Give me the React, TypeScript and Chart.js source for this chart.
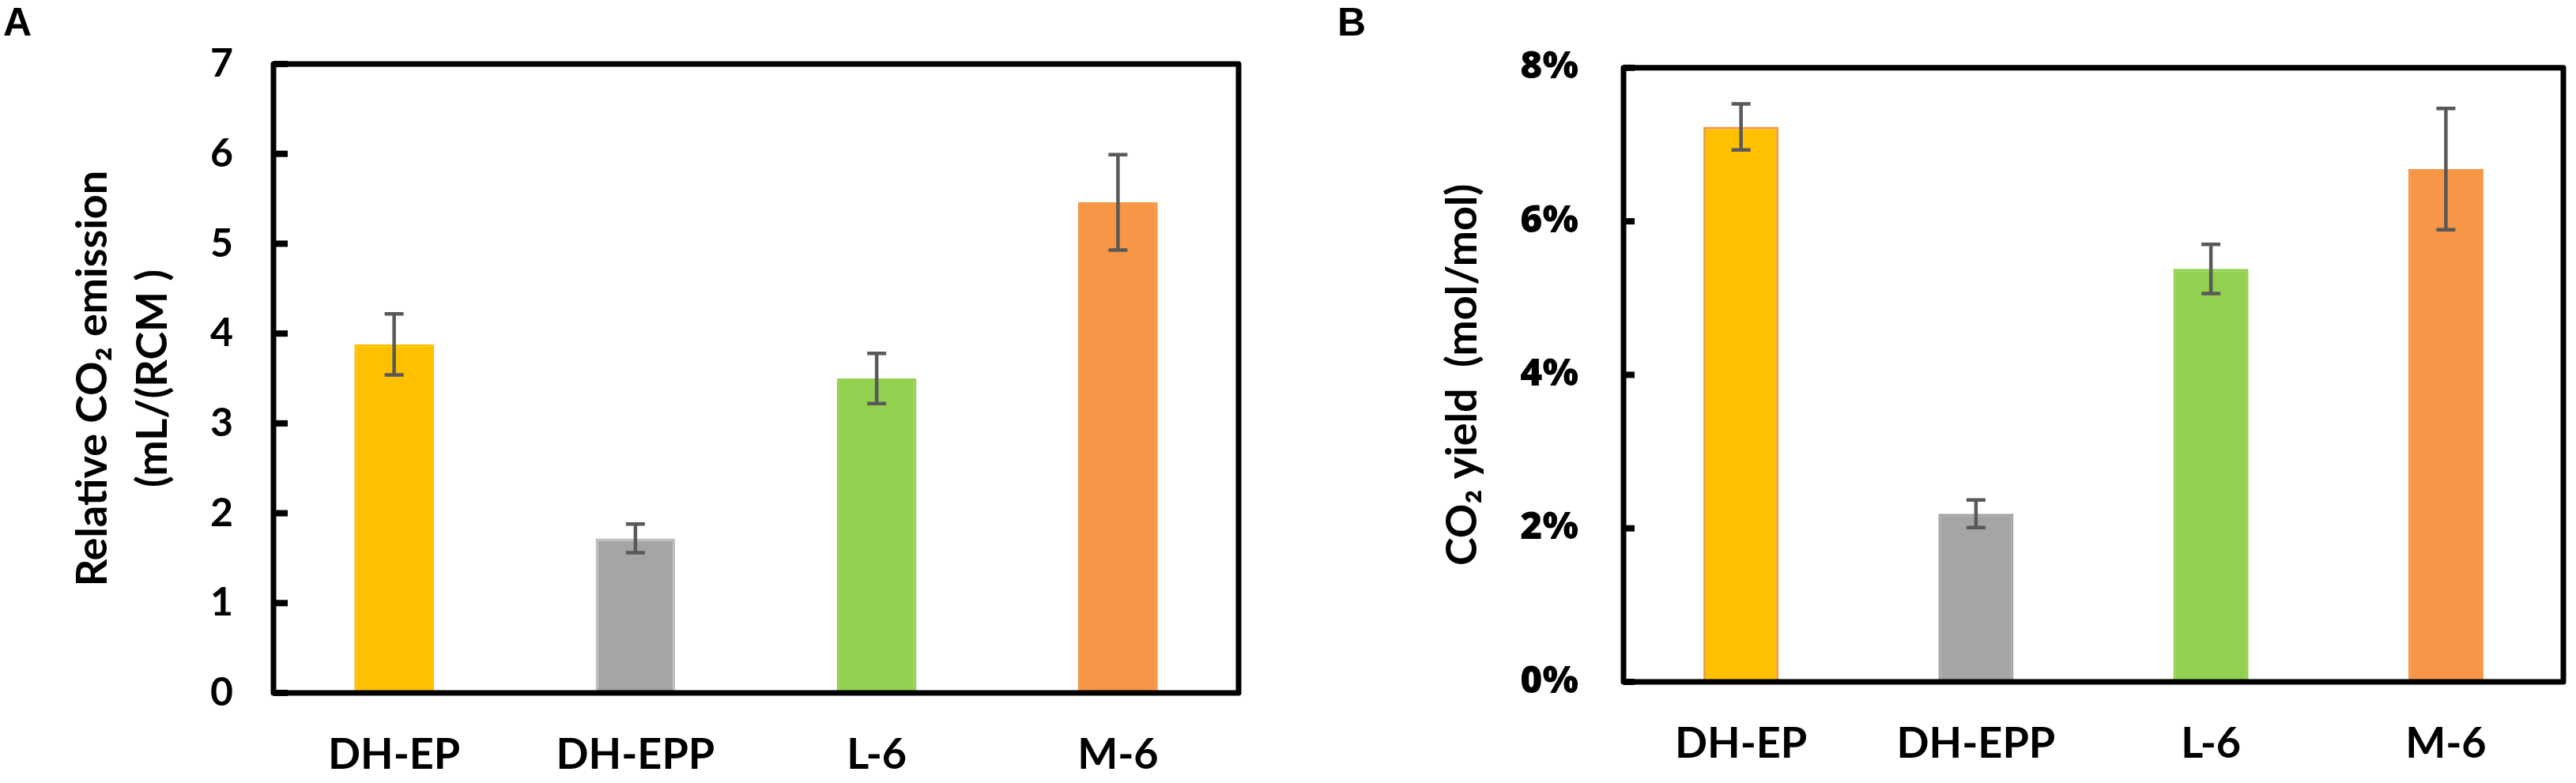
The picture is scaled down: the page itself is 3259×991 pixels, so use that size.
import React, { useEffect, useRef } from "react";
import { Chart, registerables, ChartConfiguration, Plugin } from "chart.js";

Chart.register(...registerables);

const categories = ["DH-EP", "DH-EPP", "L-6", "M-6"];
const fillColors = ["#FFC000", "#A5A5A5", "#92D050", "#F79646"];
const edgeColorsA = ["#FFC000", "#BFBFBF", "#92D050", "#F79646"];
const edgeColorsB = ["#F79646", "#A5A5A5", "#92D050", "#F79646"];

// panel A: relative CO2 emission, mL/(RCM)
const emission = [3.88, 1.72, 3.5, 5.46];
const emissionErr = [0.34, 0.16, 0.28, 0.53];

// panel B: CO2 yield, percent mol/mol
const co2Yield = [7.23, 2.19, 5.38, 6.68];
const co2YieldErr = [0.3, 0.18, 0.32, 0.79];

const errorBars: Plugin<"bar"> = {
  id: "errorBars",
  afterDatasetsDraw(chart, _args, opts: any) {
    const { ctx } = chart;
    const y = chart.scales.y;
    const values = chart.data.datasets[0].data as number[];
    const errs: number[] = opts.errors || [];
    ctx.save();
    ctx.strokeStyle = "#595959";
    ctx.lineWidth = 4.5;
    chart.getDatasetMeta(0).data.forEach((bar, i) => {
      const x = bar.x;
      const top = y.getPixelForValue(values[i] + errs[i]);
      const bot = y.getPixelForValue(values[i] - errs[i]);
      ctx.beginPath();
      ctx.moveTo(x, top);
      ctx.lineTo(x, bot);
      ctx.moveTo(x - 12, top);
      ctx.lineTo(x + 12, top);
      ctx.moveTo(x - 12, bot);
      ctx.lineTo(x + 12, bot);
      ctx.stroke();
    });
    ctx.restore();
  },
};

const frame: Plugin<"bar"> = {
  id: "frame",
  afterDatasetsDraw(chart, _args, opts: any) {
    const { ctx, chartArea: a } = chart;
    const y = chart.scales.y;
    ctx.save();
    ctx.strokeStyle = "#000";
    ctx.lineWidth = 8;
    y.ticks.forEach((_t, i) => {
      const py = y.getPixelForTick(i);
      ctx.beginPath();
      ctx.moveTo(a.left, py);
      ctx.lineTo(a.left + (opts.tickLen || 18), py);
      ctx.stroke();
    });
    ctx.lineWidth = 7;
    ctx.lineJoin = "round";
    ctx.strokeRect(a.left, a.top, a.right - a.left, a.bottom - a.top);
    ctx.restore();
  },
};

interface PanelProps {
  values: number[];
  errors: number[];
  edges: string[];
  max: number;
  step: number;
  suffix: string;
  title: string | string[];
  titleSize: number;
  tickFont: string;
  tickSize: number;
  tickWeight: number;
  tickPad: number;
  titleLineHeight: number;
  titlePad: number;
  axisWidth: number;
  axisHeight: number;
  padTop: number;
  padRight: number;
  barPct: number;
  tickLen: number;
}

const Panel: React.FC<PanelProps> = (p) => {
  const canvasRef = useRef<HTMLCanvasElement>(null);

  useEffect(() => {
    if (!canvasRef.current) return;
    const config: ChartConfiguration<"bar"> = {
      type: "bar",
      data: {
        labels: categories,
        datasets: [
          {
            data: p.values,
            backgroundColor: fillColors,
            borderColor: p.edges,
            borderWidth: 3,
            categoryPercentage: 1,
            barPercentage: p.barPct,
          },
        ],
      },
      options: {
        animation: false,
        responsive: true,
        maintainAspectRatio: false,
        layout: { padding: { top: p.padTop, right: p.padRight, left: 0, bottom: 0 } },
        plugins: {
          legend: { display: false },
          tooltip: { enabled: false },
          errorBars: { errors: p.errors },
          frame: { tickLen: p.tickLen },
        } as any,
        scales: {
          x: {
            grid: { display: false, drawTicks: false },
            border: { display: false },
            ticks: {
              color: "#000",
              padding: 46,
              font: { family: "Lato", size: 54, weight: "bold" },
            },
            afterFit: (s) => {
              s.height = p.axisHeight;
            },
          },
          y: {
            min: 0,
            max: p.max,
            grid: { display: false, drawTicks: false },
            border: { display: false },
            ticks: {
              stepSize: p.step,
              color: "#000",
              padding: p.tickPad,
              font: { family: p.tickFont, size: p.tickSize, weight: p.tickWeight as any },
              callback: (v) => `${v}${p.suffix}`,
            },
            title: {
              display: true,
              text: p.title,
              color: "#000",
              font: { family: "Lato", size: p.titleSize, weight: "bold", lineHeight: p.titleLineHeight },
              padding: { top: p.titlePad, bottom: 0 },
            },
            afterFit: (s) => {
              s.width = p.axisWidth;
            },
          },
        },
      },
      plugins: [errorBars, frame],
    };
    const chart = new Chart(canvasRef.current, config);
    return () => chart.destroy();
  }, [p]);

  return <canvas ref={canvasRef} />;
};

const letterStyle: React.CSSProperties = {
  position: "absolute",
  fontFamily: "'Liberation Sans', Arial, sans-serif",
  fontWeight: "bold",
  fontSize: 50,
  lineHeight: "50px",
  color: "#000",
};

const panelA: PanelProps = {
  values: emission,
  errors: emissionErr,
  edges: edgeColorsA,
  max: 7,
  step: 1,
  suffix: "",
  title: ["Relative CO₂ emission", "(mL/(RCM )"],
  titleSize: 54,
  tickFont: "Lato",
  tickSize: 50,
  tickWeight: 700,
  tickPad: 51,
  titleLineHeight: 1.42,
  titlePad: 79,
  axisWidth: 346,
  axisHeight: 114,
  padTop: 52,
  padRight: 53,
  barPct: 0.33,
  tickLen: 18,
};

const panelB: PanelProps = {
  values: co2Yield,
  errors: co2YieldErr,
  edges: edgeColorsB,
  max: 8,
  step: 2,
  suffix: "%",
  title: "CO₂ yield  (mol/mol)",
  titleSize: 54,
  tickFont: "Open Sans",
  tickSize: 48,
  tickWeight: 800,
  tickPad: 57,
  titleLineHeight: 1.2,
  titlePad: 198,
  axisWidth: 434,
  axisHeight: 128,
  padTop: 53,
  padRight: 16,
  barPct: 0.32,
  tickLen: 14,
};

export default function App() {
  return (
    <div style={{ position: "absolute", left: 0, top: 0, width: 3259, height: 991, background: "#fff" }}>
      <div style={{ position: "absolute", left: 0, top: 0, width: 1620, height: 991 }}>
        <Panel {...panelA} />
      </div>
      <div style={{ position: "absolute", left: 1620, top: 0, width: 1639, height: 991 }}>
        <Panel {...panelB} />
      </div>
      <div style={{ ...letterStyle, left: 4, top: 3 }}>A</div>
      <div style={{ ...letterStyle, left: 1692, top: 3 }}>B</div>
    </div>
  );
}
